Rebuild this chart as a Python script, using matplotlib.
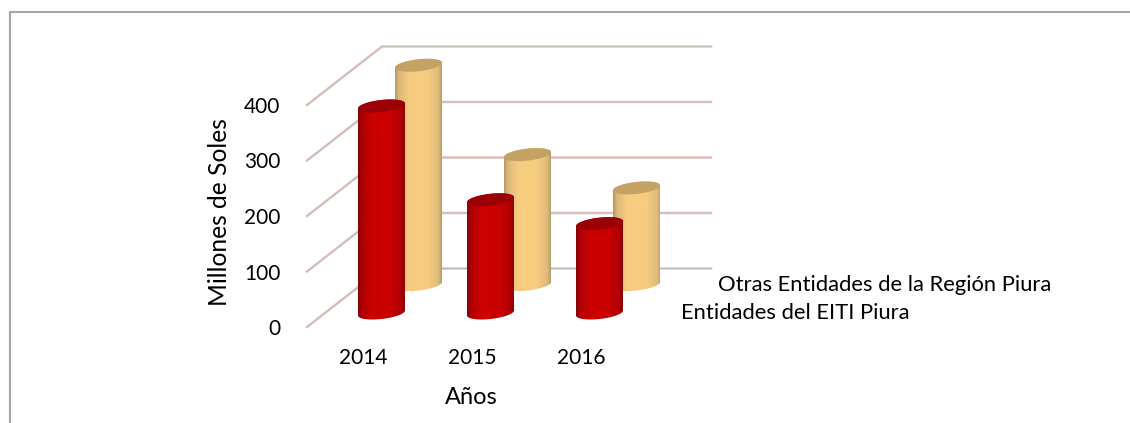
import numpy as np
import matplotlib
matplotlib.use("Agg")
import matplotlib.pyplot as plt
from matplotlib.patches import Polygon
from matplotlib.lines import Line2D
from matplotlib.transforms import Affine2D

years = ["2014", "2015", "2016"]
eiti = [373, 204, 161]
otras = [395, 234, 174]
y_ticks = [0, 100, 200, 300, 400]

W, H = 1130, 423
PX_X = 109.0    # px per category
PX_Y = 0.555    # px per value unit
BAR_W = 47 / PX_X

plt.rcParams['font.family'] = ['Lato', 'DejaVu Sans']

fig = plt.figure(figsize=(W / 100, H / 100), dpi=100)

# axes front plane, pixel box of the plot
left, right = 307, 711
y0, y400 = 327, 105
ax = fig.add_axes([left / W, (H - y0) / H, (right - left) / W, (y0 - y400) / H])
ax.set_xlim((left - 381.5) / PX_X, (right - 381.5) / PX_X)
ax.set_ylim(0, 400)
ax.patch.set_visible(False)
for s in ax.spines.values():
    s.set_visible(False)


def shifted(dx, dy):
    # data transform moved back in depth by some pixels
    return ax.transData + Affine2D().translate(dx, dy)


# depth of back wall, data units
wall_dx = 75 / PX_X
wall_dy = 58.5 / PX_Y
x0 = ax.get_xlim()[0]
x1 = ax.get_xlim()[1]
for v in y_ticks:
    for col, lw, a in [('#e6c4c4', 1.8, 1.0), ('#bdbdb0', 0.7, 0.9)]:
        ax.plot([x0, x0 + wall_dx, x1], [v, v + wall_dy, v + wall_dy], color=col, lw=lw,
                alpha=a, clip_on=False, zorder=1, solid_joinstyle='miter')


def cylinder(cat, value, dx, dy, stops, top_col, z):
    tr = shifted(dx, dy)
    a = BAR_W / 2
    b = 6 / PX_Y
    s = 2.5 / PX_Y
    t = np.linspace(0, np.pi, 60)
    upper_x = cat + a * np.cos(t)
    upper_y = value + b * np.sin(t) + s * np.cos(t)
    lower_x = cat - a * np.cos(t)
    lower_y = -b * np.sin(t) - s * np.cos(t)
    body = Polygon(np.column_stack([np.r_[upper_x, lower_x], np.r_[upper_y, lower_y]]),
                   closed=True, transform=tr, fc='none', ec='none', clip_on=False)
    ax.add_patch(body)
    pos = np.linspace(0, 1, 128)
    rgb = np.stack([np.interp(pos, stops[0], [c[i] for c in stops[1]]) for i in range(3)], axis=-1)
    im = ax.imshow(rgb[np.newaxis, :, :], extent=(cat - a, cat + a, -30, value + 30), aspect='auto',
                   interpolation='bilinear', transform=tr, zorder=z)
    im.set_clip_box(fig.bbox)
    im.set_clip_path(body)
    t2 = np.linspace(0, 2 * np.pi, 120)
    top = Polygon(np.column_stack([cat + a * np.cos(t2), value + b * np.sin(t2) + s * np.cos(t2)]),
                  closed=True, transform=tr, fc=top_col, ec='none', zorder=z + 0.1, clip_on=False)
    ax.add_patch(top)


pos_stops = [0, 0.08, 0.30, 0.7, 0.93, 1]
red_cols = [(0.50, 0.02, 0.03), (0.68, 0.0, 0.02), (0.80, 0.0, 0.0),
            (0.79, 0.0, 0.0), (0.68, 0.0, 0.02), (0.52, 0.02, 0.03)]
tan_cols = [(0.70, 0.60, 0.40), (0.86, 0.72, 0.47), (0.97, 0.80, 0.50),
            (0.97, 0.80, 0.50), (0.87, 0.73, 0.48), (0.70, 0.61, 0.42)]

for i in range(len(years)):
    cylinder(i + 37 / PX_X, otras[i], 0, 42.5, (pos_stops, tan_cols), '#c4a263', 3)
for i in range(len(years)):
    cylinder(i, eiti[i], 0, 14, (pos_stops, red_cols), '#9a0005', 5)

ax.set_xlim((left - 381.5) / PX_X, (right - 381.5) / PX_X)
ax.set_ylim(0, 400)

ax.set_xticks(np.arange(len(years)) - 18 / PX_X)
ax.set_xticklabels(years)
ax.set_yticks(y_ticks)
ax.tick_params(axis='both', length=0, labelsize=15, labelcolor='black')
ax.tick_params(axis='x', pad=15)
ax.tick_params(axis='y', pad=19)

fig.text(471 / W, 1 - 397 / H, "Años", fontsize=17, ha='center', va='center')
fig.text(219.5 / W, 1 - 212 / H, "Millones de Soles", fontsize=17.7, rotation=90, ha='center', va='center')

fig.text(718 / W, 1 - 285 / H, "Otras Entidades de la Región Piura", fontsize=15.8, ha='left', va='center')
fig.text(681 / W, 1 - 313 / H, "Entidades del EITI Piura", fontsize=15.8, ha='left', va='center')

# chart frame: only top and left edges are inside the picture
frame = dict(color='#a6a6a6', lw=1.5, transform=fig.transFigure)
fig.add_artist(Line2D([9.5 / W, 1], [1 - 12.5 / H, 1 - 12.5 / H], **frame))
fig.add_artist(Line2D([9.5 / W, 9.5 / W], [1 - 12.5 / H, 0], **frame))

fig.savefig("out.png", dpi=100)
